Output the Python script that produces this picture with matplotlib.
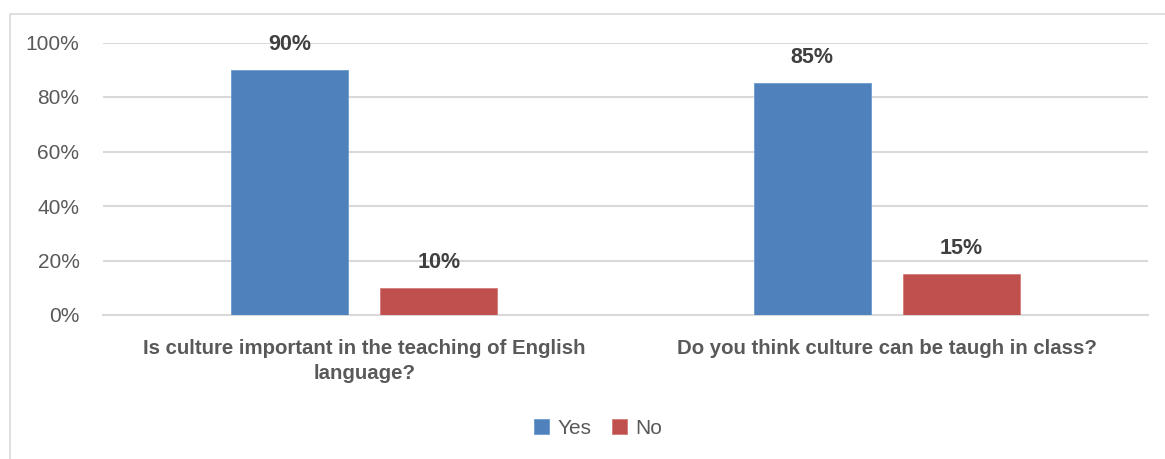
import matplotlib.pyplot as plt
from matplotlib.patches import Rectangle
import numpy as np

# survey answers
questions = ['Is culture important in the teaching of English\nlanguage?',
             'Do you think culture can be taugh in class?']
yes_vals = [0.90, 0.85]
no_vals = [0.10, 0.15]
series_names = ['Yes', 'No']
yticks = [0, 0.2, 0.4, 0.6, 0.8, 1.0]
ytick_labels = ['0%', '20%', '40%', '60%', '80%', '100%']

plt.rcParams['font.family'] = ['Liberation Sans', 'DejaVu Sans']

fig = plt.figure(figsize=(11.65, 4.59), dpi=100)
ax = fig.add_axes([103/1165, 1 - 315/459, 1045/1165, 272.5/459])

# outer chart frame (light gray)
fig.patches.append(Rectangle((9.5/1165, -0.1), 1.2, 1 - 13.5/459 + 0.1,
                             transform=fig.transFigure, fill=False,
                             edgecolor='#d9d9d9', linewidth=1.2, clip_on=False))

x = np.arange(len(questions))
w = 0.224
off = 0.1425
b1 = ax.bar(x - off, yes_vals, w, color='#4f81bd', edgecolor='#6d9bd1', linewidth=0.6, label=series_names[0], zorder=3)
b2 = ax.bar(x + off, no_vals, w, color='#c0504d', edgecolor='#d27a78', linewidth=0.6, label=series_names[1], zorder=3)

for bars in (b1, b2):
    for r in bars:
        ax.annotate(f'{r.get_height()*100:.0f}%', (r.get_x() + r.get_width()/2, r.get_height()),
                    xytext=(0, 18.5), textcoords='offset points', ha='center', va='center',
                    fontsize=15.5, fontweight='bold', color='#404040')

ax.set_xlim(-0.5, 1.5)
ax.set_ylim(0, 1.0)
ax.set_yticks(yticks)
ax.set_yticklabels(ytick_labels, fontsize=15, color='#595959')
ax.set_xticks(x)
ax.set_xticklabels(questions, fontsize=14.7, fontweight='bold', color='#595959', linespacing=1.45)
ax.tick_params(axis='both', length=0)
ax.tick_params(axis='y', pad=17)
ax.tick_params(axis='x', pad=17)
ax.grid(axis='y', color='#d9d9d9', linewidth=1.5, zorder=0)
for s in ['top', 'right', 'left']:
    ax.spines[s].set_visible(False)
ax.spines['bottom'].set_color('#d9d9d9')
ax.spines['bottom'].set_linewidth(1.5)

fig.legend(loc='center', bbox_to_anchor=(598/1165, 1 - 428/459), ncol=2, frameon=False,
           fontsize=15, labelcolor='#595959', handlelength=0.7, handleheight=0.7,
           handletextpad=0.4, columnspacing=1.0)

fig.savefig('out.png', dpi=100)
